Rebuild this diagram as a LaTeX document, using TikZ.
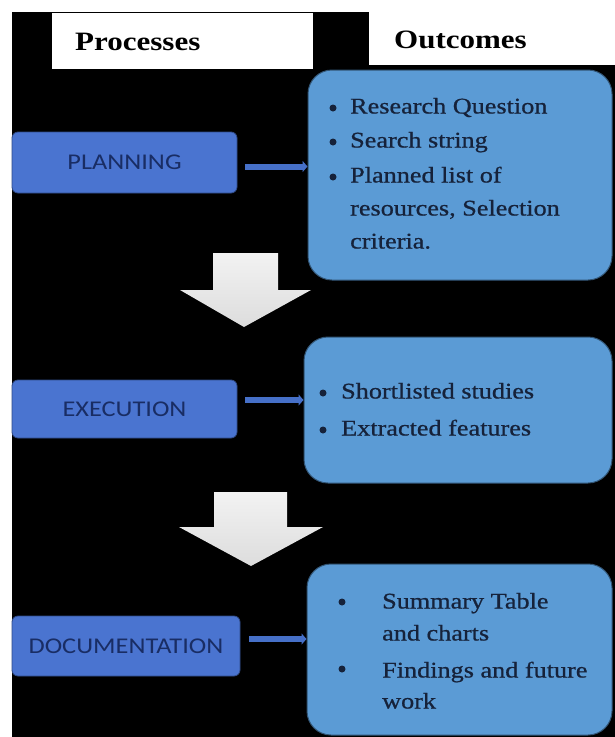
\documentclass[tikz,border=0pt]{standalone}
\usepackage{fontspec}
\setmainfont{Liberation Serif}
\newfontfamily\procfont{Carlito}
\newfontfamily\itemfont[FakeBold=0.7]{Liberation Serif}
\usetikzlibrary{arrows.meta}
\definecolor{procblue}{RGB}{74,116,208}
\definecolor{outblue}{RGB}{91,155,213}
\definecolor{procink}{RGB}{25,45,100}
\definecolor{outink}{RGB}{22,34,58}
\definecolor{arrowblue}{RGB}{70,112,200}
\newcommand\stretchtext[1]{\scalebox{1.17}[1]{#1}}
\begin{document}
\begin{tikzpicture}[x=1pt,y=-1pt,
  procbox/.style={fill=procblue, draw=procblue!65!black, line width=0.8pt, rounded corners=6pt,
    inner sep=0pt, font=\procfont\fontsize{22.5}{27}\selectfont, text=procink},
  outbox/.style={fill=outblue, draw=outblue!55!black, line width=1pt, rounded corners=24pt, inner sep=0pt},
  titlebox/.style={fill=white, inner sep=0pt, anchor=north west},
  titletext/.style={anchor=west, inner sep=0pt, font=\fontsize{26.5}{30}\selectfont\bfseries, text=black},
  itemtext/.style={anchor=west, inner sep=0pt, font=\itemfont\fontsize{22.4}{27}\selectfont, text=outink,
    text height=16pt, text depth=5pt},
  bullet/.style={fill=outink},
  smallarrow/.style={draw=arrowblue, line width=6pt, -{Triangle[length=5pt,width=11pt]}},
  downarrow/.style={top color=gray!10, bottom color=gray!27}
]
\useasboundingbox (0,0) rectangle (615,737);
\fill[white] (0,0) rectangle (615,737);
\fill[black] (12,12) rectangle (615,737);

% headers
\node[titlebox, minimum width=261pt, minimum height=56pt] (prochead) at (52,13) {};
\node[titlebox, minimum width=246pt, minimum height=65pt] (outhead) at (369,0) {};
\node[titletext] (proctitle) at (75,42) {\stretchtext{Processes}};
\node[titletext] (outtitle) at (394,40) {\stretchtext{Outcomes}};

% process boxes
\node[procbox, minimum width=225pt, minimum height=61pt] (plan) at (124.5,162.5) {\stretchtext{PLANNING}};
\node[procbox, minimum width=225pt, minimum height=58pt] (exec) at (124.5,409) {\stretchtext{EXECUTION}};
\node[procbox, minimum width=228pt, minimum height=60pt] (doc) at (126,646) {\stretchtext{DOCUMENTATION}};

% outcome boxes
\node[outbox, minimum width=304pt, minimum height=210pt] (planout) at (460,175) {};
\node[outbox, minimum width=308pt, minimum height=146pt] (execout) at (458,410) {};
\node[outbox, minimum width=305pt, minimum height=171pt] (docout) at (459.5,649.5) {};

% horizontal arrows
\coordinate (a1) at ([shift={(8,4)}]plan.east);
\coordinate (a2) at ([shift={(8,-9)}]exec.east);
\coordinate (a3) at ([shift={(9,-7)}]doc.east);
\draw[smallarrow] (a1) -- (a1 -| planout.west);
\draw[smallarrow] (a2) -- (a2 -| execout.west);
\draw[smallarrow] (a3) -- (a3 -| docout.west);

% down arrows
\shade[downarrow] (213,253) -- (278,253) -- (278,290) -- (311,290) -- (244,327) -- (180,290) -- (213,290) -- cycle;
\shade[downarrow] (214,492) -- (287,492) -- (287,527) -- (323,527) -- (251,566) -- (179,527) -- (214,527) -- cycle;

% planning outcomes
\fill[bullet] (333,108) circle[radius=3.5pt];
\fill[bullet] (333,142) circle[radius=3.5pt];
\fill[bullet] (333,177) circle[radius=3.5pt];
\node[itemtext] (p1) at (350,108) {\stretchtext{Research Question}};
\node[itemtext] (p2) at (350,142) {\stretchtext{Search string}};
\node[itemtext] (p3) at (350,177) {\stretchtext{Planned list of}};
\node[itemtext] (p4) at (350,210) {\stretchtext{resources, Selection}};
\node[itemtext] (p5) at (350,243) {\stretchtext{criteria.}};

% execution outcomes
\fill[bullet] (323,393) circle[radius=3.5pt];
\fill[bullet] (323,430) circle[radius=3.5pt];
\node[itemtext] (e1) at (341,393) {\stretchtext{Shortlisted studies}};
\node[itemtext] (e2) at (341,430) {\stretchtext{Extracted features}};

% documentation outcomes
\fill[bullet] (342,602) circle[radius=3.5pt];
\fill[bullet] (342,669) circle[radius=3.5pt];
\node[itemtext] (d1) at (382,603) {\stretchtext{Summary Table}};
\node[itemtext] (d2) at (382,635) {\stretchtext{and charts}};
\node[itemtext] (d3) at (382,672) {\stretchtext{Findings and future}};
\node[itemtext] (d4) at (382,703) {\stretchtext{work}};
\end{tikzpicture}
\end{document}
